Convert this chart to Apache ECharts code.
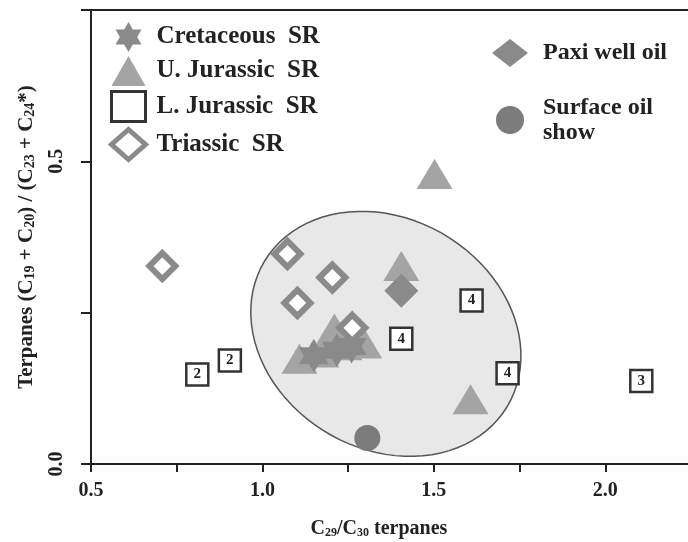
<!DOCTYPE html>
<html>
<head>
<meta charset="utf-8">
<script src="https://cdn.jsdelivr.net/npm/echarts@6/dist/echarts.min.js"></script>
<style>
  html, body { margin: 0; padding: 0; background: #fff; }
  #chart { width: 688px; height: 542px; }
</style>
</head>
<body>
<div id="chart"></div>
<script>
// data
var cretaceous = [[1.15, 0.179], [1.217, 0.188], [1.26, 0.194]];
var uJurassic = [[1.108, 0.174], [1.172, 0.184], [1.21, 0.224], [1.239, 0.196], [1.297, 0.199],
                 [1.405, 0.327], [1.502, 0.479], [1.607, 0.107]];
var lJurassic = [[0.81, 0.148, '2'], [0.905, 0.171, '2'], [1.405, 0.207, '4'],
                 [1.61, 0.27, '4'], [1.715, 0.15, '4'], [2.105, 0.137, '3']];
var triassic = [[0.708, 0.327], [1.073, 0.347], [1.204, 0.308], [1.102, 0.266], [1.262, 0.225]];
var paxiOil = [[1.405, 0.286]];
var surfaceOil = [[1.306, 0.043]];

// grey envelope: centre and two conjugate half-axes (data units)
var ellipseCenter = [1.36, 0.215];
var ellipseU = [0.354, -0.120];
var ellipseV = [-0.173, -0.163];

var xTicks = { min: 0.5, max: 2.25, step: 0.25 };
var yTicks = { min: 0, max: 0.75, step: 0.25 };

var hexagram = 'path://M50 0 L64.4 25 L93.3 25 L78.9 50 L93.3 75 L64.4 75 L50 100 L35.6 75 L6.7 75 L21.1 50 L6.7 25 L35.6 25 Z';
var serif = 'Liberation Serif';

function halfStep(v) {
    return Math.abs(v * 2 - Math.round(v * 2)) < 1e-6 ? v.toFixed(1) : '';
}

var subStyle = { fontFamily: serif, fontWeight: 'bold', fontSize: 12, color: '#222', verticalAlign: 'bottom' };
var ySubStyle = { fontFamily: serif, fontWeight: 'bold', fontSize: 14, color: '#222', verticalAlign: 'bottom' };

var myChart = echarts.init(document.getElementById('chart'));

var option = {
    animation: false,
    backgroundColor: '#fff',
    grid: {
        left: 91, top: 10, width: 600, height: 454,
        outerBoundsMode: 'none', containLabel: false,
        show: true, borderColor: '#222', borderWidth: 2
    },
    legend: [
        {
            orient: 'vertical', left: 104, top: 17,
            itemWidth: 34, itemHeight: 30, itemGap: 4,
            data: [
                { name: 'Cretaceous  SR' },
                { name: 'U. Jurassic  SR' },
                { name: 'L. Jurassic  SR', itemStyle: { borderWidth: 3 } },
                { name: 'Triassic  SR', itemStyle: { borderWidth: 5 } }
            ],
            textStyle: { fontFamily: serif, fontWeight: 'bold', fontSize: 25, color: '#222', padding: [0, 0, 0, 6] }
        },
        {
            orient: 'vertical', left: 487, top: 34,
            itemWidth: 36, itemHeight: 28, itemGap: 28,
            data: ['Paxi well oil', 'Surface oil show'],
            formatter: function (name) {
                return name === 'Surface oil show' ? 'Surface oil\nshow' : name;
            },
            textStyle: { fontFamily: serif, fontWeight: 'bold', fontSize: 24, color: '#222',
                         lineHeight: 25, padding: [0, 0, 0, 10] }
        }
    ],
    xAxis: {
        type: 'value', min: xTicks.min, max: xTicks.max, interval: xTicks.step,
        name: 'C{s|29}/C{s|30} terpanes',
        nameLocation: 'middle', nameGap: 55,
        nameTextStyle: {
            fontFamily: serif, fontWeight: 'bold', fontSize: 20, color: '#222',
            padding: [0, 24, 0, 0],
            rich: { s: subStyle }
        },
        axisLine: { lineStyle: { color: '#222', width: 2 } },
        axisTick: { length: 8, lineStyle: { color: '#222', width: 2 } },
        axisLabel: { formatter: halfStep, margin: 17, fontFamily: serif, fontWeight: 'bold', fontSize: 20, color: '#222' },
        splitLine: { show: false }
    },
    yAxis: {
        type: 'value', min: yTicks.min, max: yTicks.max, interval: yTicks.step,
        name: 'Terpanes (C{s|19} + C{s|20}) / (C{s|23} + C{s|24}*)',
        nameLocation: 'middle', nameGap: 54, nameRotate: 90,
        nameTextStyle: {
            fontFamily: serif, fontWeight: 'bold', fontSize: 21, color: '#222',
            rich: { s: ySubStyle }
        },
        axisLine: { lineStyle: { color: '#222', width: 2 } },
        axisTick: { length: 10, lineStyle: { color: '#222', width: 2 } },
        axisLabel: { formatter: halfStep, rotate: 90, margin: 24, fontFamily: serif, fontWeight: 'bold', fontSize: 20, color: '#222' },
        splitLine: { show: false }
    },
    series: [
        {
            type: 'custom', name: 'envelope', silent: true, z: 1,
            data: [ellipseCenter],
            renderItem: function (params, api) {
                var pts = [];
                for (var i = 0; i < 90; i++) {
                    var t = Math.PI * 2 * i / 90;
                    var c = Math.cos(t), s = Math.sin(t);
                    pts.push(api.coord([
                        ellipseCenter[0] + ellipseU[0] * c + ellipseV[0] * s,
                        ellipseCenter[1] + ellipseU[1] * c + ellipseV[1] * s
                    ]));
                }
                return {
                    type: 'polygon',
                    shape: { points: pts },
                    style: { fill: '#e8e8e8', stroke: '#555', lineWidth: 1.5 }
                };
            }
        },
        {
            type: 'scatter', name: 'Cretaceous  SR', z: 4,
            symbol: hexagram, symbolSize: [30, 34],
            itemStyle: { color: '#8a8a8a', opacity: 1 },
            data: cretaceous
        },
        {
            type: 'scatter', name: 'U. Jurassic  SR', z: 3,
            symbol: 'triangle', symbolSize: [36, 30],
            itemStyle: { color: '#a4a4a4', opacity: 1 },
            data: uJurassic
        },
        {
            type: 'scatter', name: 'L. Jurassic  SR', z: 6,
            symbol: 'rect', symbolSize: 22, symbolKeepAspect: true,
            itemStyle: { color: '#fff', borderColor: '#333', borderWidth: 2.5, opacity: 1 },
            label: {
                show: true, position: 'inside',
                formatter: function (p) { return p.value[2]; },
                fontFamily: serif, fontWeight: 'bold', fontSize: 15, color: '#222'
            },
            data: lJurassic
        },
        {
            type: 'scatter', name: 'Triassic  SR', z: 5,
            symbol: 'diamond', symbolSize: 26, symbolKeepAspect: true,
            itemStyle: { color: '#fff', borderColor: '#8a8a8a', borderWidth: 6, opacity: 1 },
            data: triassic
        },
        {
            type: 'scatter', name: 'Paxi well oil', z: 7,
            symbol: 'diamond', symbolSize: 34,
            itemStyle: { color: '#8a8a8a', opacity: 1 },
            data: paxiOil
        },
        {
            type: 'scatter', name: 'Surface oil show', z: 7,
            symbol: 'circle', symbolSize: 26, symbolKeepAspect: true,
            itemStyle: { color: '#7c7c7c', opacity: 1 },
            data: surfaceOil
        }
    ]
};

myChart.setOption(option);
</script>
</body>
</html>
